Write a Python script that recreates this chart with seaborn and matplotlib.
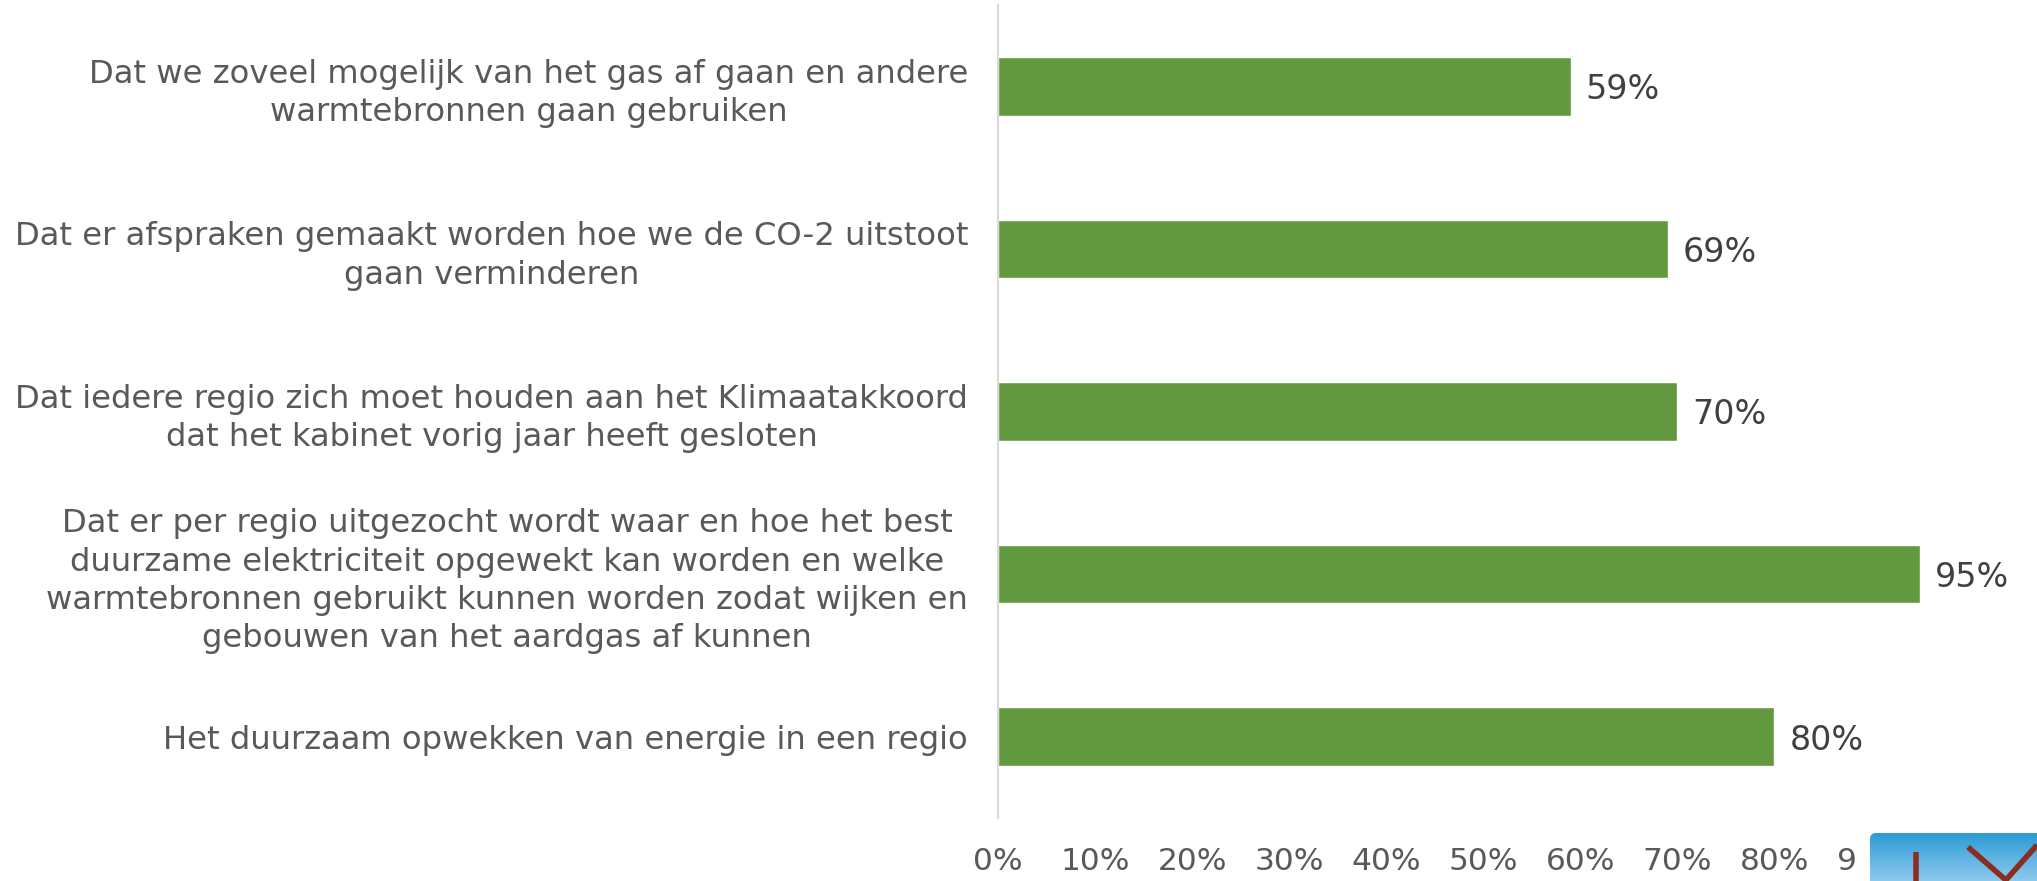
import numpy as np
import pandas as pd
import seaborn as sns
import matplotlib.pyplot as plt
from matplotlib.patches import FancyBboxPatch
from matplotlib.ticker import PercentFormatter
from matplotlib.transforms import Bbox

# --- Data ---
statements = [
    "Dat we zoveel mogelijk van het gas af gaan en andere\nwarmtebronnen gaan gebruiken",
    "Dat er afspraken gemaakt worden hoe we de CO-2 uitstoot\ngaan verminderen",
    "Dat iedere regio zich moet houden aan het Klimaatakkoord\ndat het kabinet vorig jaar heeft gesloten",
    "Dat er per regio uitgezocht wordt waar en hoe het best\nduurzame elektriciteit opgewekt kan worden en welke\n"
    "warmtebronnen gebruikt kunnen worden zodat wijken en\ngebouwen van het aardgas af kunnen",
    "Het duurzaam opwekken van energie in een regio",
]
shares = [0.59, 0.69, 0.70, 0.95, 0.80]
x_ticks = [0.0, 0.1, 0.2, 0.3, 0.4, 0.5, 0.6, 0.7, 0.8, 0.9, 1.0]

GREEN = "#62993e"
TEXT_GREY = "#595959"
LABEL_DARK = "#404040"


def main():
    df = pd.DataFrame({"statement": statements, "share": shares})

    sns.set_style("white")
    plt.rcParams["font.family"] = ["DejaVu Sans"]

    fig = plt.figure(figsize=(20.37, 8.81), dpi=100)
    ax = fig.add_axes([998 / 2037, 1 - 818 / 881, 970.5 / 2037, 813 / 881])

    sns.barplot(
        data=df,
        x="share",
        y="statement",
        orient="h",
        color=GREEN,
        saturation=1,
        width=0.36,
        ax=ax,
    )

    # value labels next to the bars
    for container in ax.containers:
        texts = ax.bar_label(
            container,
            labels=[f"{v:.0%}" for v in container.datavalues],
            padding=11,
            fontsize=24,
            color=LABEL_DARK,
        )
        for t in texts:
            t.set_va("center_baseline")

    ax.set_xlim(0, 1.0)
    ax.set_ylim(len(statements) - 0.5, -0.5)
    ax.set_xticks(x_ticks)
    ax.xaxis.set_major_formatter(PercentFormatter(1.0, decimals=0))
    ax.set_xlabel("")
    ax.set_ylabel("")

    ax.tick_params(axis="x", length=0, pad=21, labelsize=22.5, labelcolor=TEXT_GREY)
    ax.tick_params(axis="y", length=0, pad=21.5, labelsize=23.2, labelcolor=TEXT_GREY)
    for lbl in ax.get_yticklabels():
        lbl.set_multialignment("center")
        lbl.set_linespacing(1.3)

    # the axis labels are cut off just before the logo block, as in the source
    cut = Bbox([[0, 0], [1856, 881]])
    for lbl in ax.get_xticklabels():
        lbl.set_clip_box(cut)
        lbl.set_clip_on(True)

    for side in ["top", "right", "bottom"]:
        ax.spines[side].set_visible(False)
    ax.spines["left"].set_color("#d9d9d9")
    ax.spines["left"].set_linewidth(1.5)

    # small logo block in the bottom-right corner (partially visible)
    lax = fig.add_axes([1870 / 2037, 0, 167 / 2037, 48 / 881])
    lax.set_xlim(0, 167)
    lax.set_ylim(48, 0)
    lax.axis("off")
    grad = np.linspace(0, 1, 64).reshape(-1, 1)
    img = lax.imshow(
        grad,
        extent=(0, 167, 48, 0),
        cmap=sns.blend_palette(["#2c9bd6", "#8ec9ee"], as_cmap=True),
        aspect="auto",
        zorder=1,
    )
    clip = FancyBboxPatch(
        (0, 0), 180, 60,
        boxstyle="round,pad=0,rounding_size=6",
        transform=lax.transData,
        facecolor="none",
        edgecolor="none",
    )
    lax.add_patch(clip)
    img.set_clip_path(clip)
    brown = "#8b2e22"
    lax.plot([46, 46], [19, 48], color=brown, lw=4, solid_capstyle="butt", zorder=2)
    lax.plot([98, 137], [14, 48], color=brown, lw=4, solid_capstyle="butt", zorder=2)
    lax.plot([167, 135], [12, 48], color=brown, lw=4, solid_capstyle="butt", zorder=2)

    fig.savefig("out.png", dpi=fig.dpi)
    plt.close(fig)


if __name__ == "__main__":
    main()
